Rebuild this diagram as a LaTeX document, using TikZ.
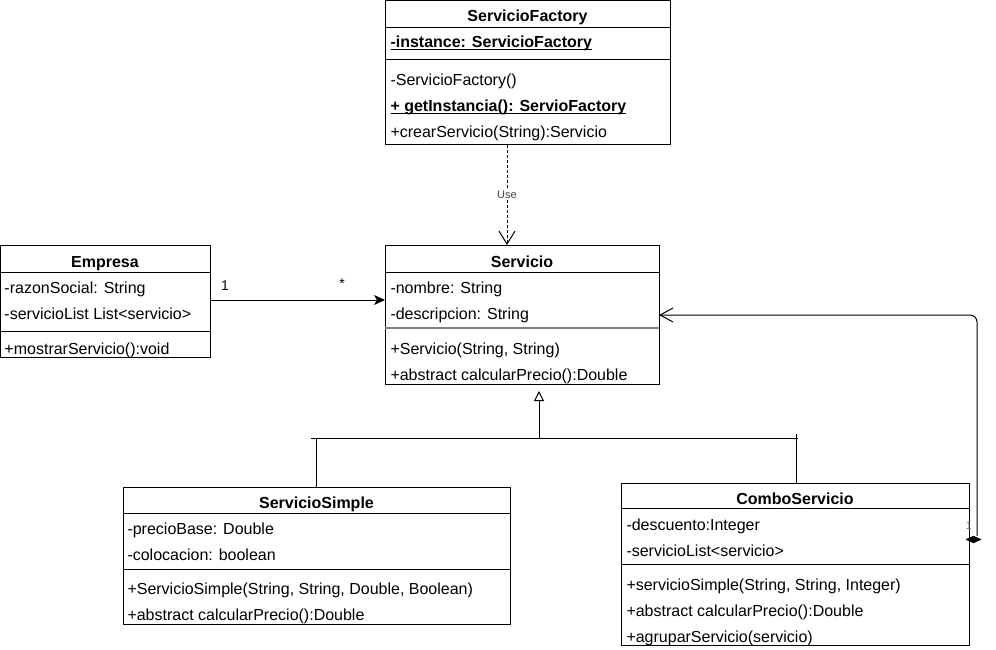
\documentclass[tikz,border=0pt]{standalone}
\usepackage{fontspec}
\setmainfont{Liberation Sans}
\usetikzlibrary{arrows.meta,shapes.geometric}
\newcommand\myul[1]{\setbox0\hbox{#1}\rlap{\rule[-2.5pt]{\wd0}{1pt}}\box0}
\begin{document}
\begin{tikzpicture}[x=1pt,y=-1pt,line width=1pt,
  cls/.style={draw, line width=1pt, anchor=north west, inner sep=0pt, outer sep=0pt},
  row/.style={anchor=base west, inner sep=0pt, font=\fontsize{16}{19}\selectfont},
  ttl/.style={anchor=base, inner sep=0pt, font=\fontsize{16}{19}\selectfont\bfseries},
  lbl/.style={inner sep=0pt, font=\fontsize{14}{16}\selectfont},
  uselbl/.style={fill=white, inner sep=1pt, text=black!75, font=\fontsize{11}{12}\selectfont},
  dep/.style={dash pattern=on 3pt off 2pt, -{Straight Barb[length=13pt,width=16pt]}},
  inh/.style={-{Triangle[open,fill=white,length=10pt,width=10pt]}},
  asc/.style={-{Stealth[length=11pt,width=10pt,inset=3pt]}},
  cmp/.style={rounded corners=7pt, -{Straight Barb[length=13pt,width=14pt]}}
]
\useasboundingbox (0,0) rectangle (996,650);

% ServicioFactory
\node[cls, minimum width=285pt, minimum height=144pt] (sf) at (385,1) {};
\draw ([yshift=-27pt]sf.north west) -- ([yshift=-27pt]sf.north east);
\draw ([yshift=-59pt]sf.north west) -- ([yshift=-59pt]sf.north east);
\node[ttl] (sf0) at (527.5,22) {ServicioFactory};
\node[row, font=\fontsize{16}{19}\selectfont\bfseries] (sf1) at (390,48) {\myul{-instance: ServicioFactory}};
\node[row] (sf2) at (390,86) {-ServicioFactory()};
\node[row, font=\fontsize{16}{19}\selectfont\bfseries] (sf3) at (390,112) {\myul{+ getInstancia(): ServioFactory}};
\node[row] (sf4) at (390,138) {+crearServicio(String):Servicio};

% Servicio
\node[cls, minimum width=274pt, minimum height=139pt] (serv) at (385,245) {};
\draw ([yshift=-27pt]serv.north west) -- ([yshift=-27pt]serv.north east);
\draw[line width=2pt, draw=black!50] ([yshift=-83pt]serv.north west) -- ([yshift=-83pt]serv.north east);
\node[ttl] (sv0) at (522,267) {Servicio};
\node[row] (sv1) at (390,293) {-nombre: String};
\node[row] (sv2) at (390,319) {-descripcion: String};
\node[row] (sv3) at (390,354.5) {+Servicio(String, String)};
\node[row] (sv4) at (390,380.5) {+abstract calcularPrecio():Double};

% Empresa
\node[cls, minimum width=209.5pt, minimum height=112pt] (emp) at (0.5,245) {};
\draw ([yshift=-27pt]emp.north west) -- ([yshift=-27pt]emp.north east);
\draw ([yshift=-86pt]emp.north west) -- ([yshift=-86pt]emp.north east);
\node[ttl] (em0) at (105,267) {Empresa};
\node[row] (em1) at (4,293) {-razonSocial: String};
\node[row] (em2) at (4,319) {-servicioList List<servicio>};
\node[row] (em3) at (4,354.5) {+mostrarServicio():void};

% ServicioSimple
\node[cls, minimum width=387pt, minimum height=137pt] (ss) at (123,487) {};
\draw ([yshift=-26pt]ss.north west) -- ([yshift=-26pt]ss.north east);
\draw ([yshift=-82pt]ss.north west) -- ([yshift=-82pt]ss.north east);
\node[ttl] (ss0) at (316.5,508) {ServicioSimple};
\node[row] (ss1) at (127,534) {-precioBase: Double};
\node[row] (ss2) at (127,560) {-colocacion: boolean};
\node[row] (ss3) at (127,594) {+ServicioSimple(String, String, Double, Boolean)};
\node[row] (ss4) at (127,620) {+abstract calcularPrecio():Double};

% ComboServicio
\node[cls, minimum width=348pt, minimum height=162pt] (cs) at (621,483) {};
\draw ([yshift=-25pt]cs.north west) -- ([yshift=-25pt]cs.north east);
\draw ([yshift=-81pt]cs.north west) -- ([yshift=-81pt]cs.north east);
\node[ttl] (cs0) at (795,504) {ComboServicio};
\node[row] (cs1) at (626,530) {-descuento:Integer};
\node[row] (cs2) at (626,556) {-servicioList<servicio>};
\node[row] (cs3) at (626,590) {+servicioSimple(String, String, Integer)};
\node[row] (cs4) at (626,616) {+abstract calcularPrecio():Double};
\node[row] (cs5) at (626,642) {+agruparServicio(servicio)};

% Use dependency
\coordinate (usex) at (507,0);
\draw[dep] (sf.south -| usex) -- node[uselbl] (use) {Use} (serv.north -| usex);

% Association Empresa -> Servicio
\coordinate (assy) at (0,300);
\draw[asc] (emp.east |- assy) -- (serv.west |- assy);
\node[lbl] (m1) at (225,286) {1};
\node[lbl] (m2) at (342,284) {*};

% Generalization
\coordinate (gl) at (311,438);
\coordinate (gr) at (798,438);
\coordinate (gx) at (539,438);
\coordinate (ssx) at (316,438);
\coordinate (csx) at (796,434);
\draw (gl) -- (gr);
\draw (ssx) -- (ss.north -| ssx);
\draw (csx) -- (cs.north -| csx);
\draw[inh] (gx) -- ([yshift=-7pt]serv.south -| gx);

% Composition ComboServicio -> Servicio
\coordinate (dx) at (977,0);
\coordinate (cy) at (0,315);
\node[diamond, fill=black, draw=black, line width=0.5pt, minimum width=15pt, minimum height=7pt, inner sep=0pt] (dia) at (973.5,539.5) {};
\draw[cmp] (dia.north -| dx) |- (serv.east |- cy);
\node[inner sep=0pt, text=black!55, font=\fontsize{11}{12}\selectfont] (c1) at (969,526) {1};
\end{tikzpicture}
\end{document}
